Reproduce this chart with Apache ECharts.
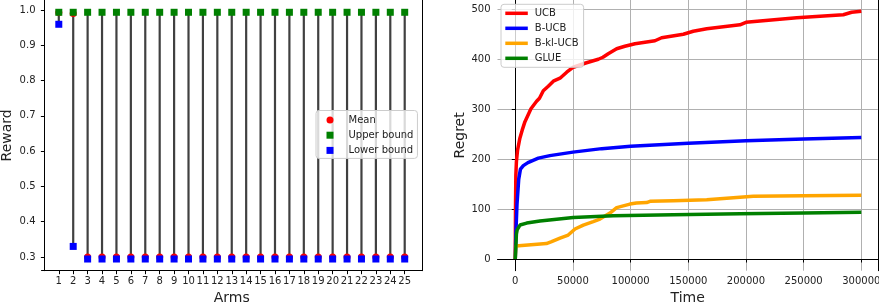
<!DOCTYPE html>
<html>
<head>
<meta charset="utf-8">
<script src="https://cdn.jsdelivr.net/npm/echarts@6/dist/echarts.min.js"></script>
<style>
html,body{margin:0;padding:0;background:#fff;}
#chart{width:879px;height:306px;}
</style>
</head>
<body>
<div id="chart"></div>
<script>
// ---------- Left panel: arms ----------
const arms = [1,2,3,4,5,6,7,8,9,10,11,12,13,14,15,16,17,18,19,20,21,22,23,24,25];
const armMean  = [0.993,0.990,0.300,0.300,0.300,0.300,0.300,0.300,0.300,0.300,0.300,0.300,0.300,0.300,0.300,0.300,0.300,0.300,0.300,0.300,0.300,0.300,0.300,0.300,0.300];
const armUpper = [0.9935,0.9935,0.9935,0.9935,0.9935,0.9935,0.9935,0.9935,0.9935,0.9935,0.9935,0.9935,0.9935,0.9935,0.9935,0.9935,0.9935,0.9935,0.9935,0.9935,0.9935,0.9935,0.9935,0.9935,0.9935];
const armLower = [0.9595,0.330,0.2943,0.2943,0.2943,0.2943,0.2943,0.2943,0.2943,0.2943,0.2943,0.2943,0.2943,0.2943,0.2943,0.2943,0.2943,0.2943,0.2943,0.2943,0.2943,0.2943,0.2943,0.2943,0.2943];
const rewardTicks = [0.3,0.4,0.5,0.6,0.7,0.8,0.9,1.0];

// ---------- Right panel: regret curves ([time, regret]) ----------
const ucbPoints = [[0,0],[200,100],[500,168],[1000,195],[2000,218],[4000,242],[6000,258],[8400,275],[13600,301],[18500,316],[21000,322],[24300,337],[28600,346],[33000,356],[38800,362],[44600,374],[50300,384],[60400,392],[72000,400],[76000,404],[80600,411],[87900,421],[95000,426],[103800,431],[121100,437],[126900,443],[145700,450],[154300,456],[166000,461],[194800,469],[200000,474],[244000,483],[284400,489],[291600,494],[300000,496]];
const bucbPoints = [[0,0],[500,50],[1500,110],[3000,160],[4500,180],[7000,187],[11000,193],[20000,202],[30000,207],[50000,214],[75000,221],[100000,226],[150000,232],[200000,237],[250000,240.5],[300000,243.5]];
const bklPoints = [[0,0],[400,26],[27000,31],[31500,35],[38800,42],[45900,48],[51800,60],[59000,68],[67600,75],[73400,80],[82100,92],[87900,103],[99400,110],[105000,112],[113900,113],[116800,115.5],[137000,116.8],[166000,118.5],[186200,122],[206300,125.5],[250000,126.5],[300000,127.5]];
const gluePoints = [[0,0],[1000,50],[1730,59],[4100,68],[9900,72],[21400,76],[50300,83],[85000,86.5],[137000,88.7],[194800,90.7],[250000,92.3],[300000,93.7]];
const timeTicks = [0,50000,100000,150000,200000,250000,300000];
const regretTicks = [0,100,200,300,400,500];

const FONT = 'DejaVu Sans';
const chart = echarts.init(document.getElementById('chart'), null, {renderer:'canvas'});

const spine = {show:true, lineStyle:{color:'#000', width:1}};
const tick = {show:true, length:3.5, lineStyle:{color:'#000', width:1}};
const plain = v => String(v);

const option = {
  animation:false,
  backgroundColor:'#fff',
  textStyle:{fontFamily:FONT},
  grid:[
    {left:41.5, top:0, width:380.5, height:270.7, outerBoundsMode:'none', containLabel:false},
    {left:497.5, top:0, width:380.3, height:270.7, outerBoundsMode:'none', containLabel:false}
  ],
  xAxis:[
    {type:'value', gridIndex:0, min:-0.2, max:26.2,
     axisLine:spine, axisTick:Object.assign({customValues:arms}, tick),
     axisLabel:{customValues:arms, fontSize:10, color:'#222', margin:6, fontFamily:FONT, formatter:plain},
     splitLine:{show:false},
     name:'Arms', nameLocation:'middle', nameGap:21,
     nameTextStyle:{fontSize:14, color:'#222', fontFamily:FONT}},
    {type:'value', gridIndex:1, min:-15400, max:314300,
     axisLine:spine, axisTick:Object.assign({customValues:timeTicks}, tick),
     axisLabel:{customValues:timeTicks, fontSize:10, color:'#222', margin:6, fontFamily:FONT, formatter:plain},
     splitLine:{show:true, lineStyle:{color:'#b0b0b0', width:1}},
     name:'Time', nameLocation:'middle', nameGap:21,
     nameTextStyle:{fontSize:14, color:'#222', fontFamily:FONT}}
  ],
  yAxis:[
    {type:'value', gridIndex:0, min:0.2612, max:1.0283,
     axisLine:spine, axisTick:Object.assign({customValues:rewardTicks}, tick),
     axisLabel:{customValues:rewardTicks, fontSize:10, color:'#222', margin:6, fontFamily:FONT,
       formatter:v=>v.toFixed(1)},
     splitLine:{show:false},
     name:'Reward', nameLocation:'middle', nameGap:27, nameRotate:90,
     nameTextStyle:{fontSize:14, color:'#222', fontFamily:FONT}},
    {type:'value', gridIndex:0, position:'right', min:0.2612, max:1.0283,
     axisLine:spine, axisTick:{show:false}, axisLabel:{show:false}, splitLine:{show:false}},
    {type:'value', gridIndex:1, min:-23.4, max:518.6,
     axisLine:spine, axisTick:Object.assign({customValues:regretTicks}, tick),
     axisLabel:{customValues:regretTicks, fontSize:10, color:'#222', margin:7, fontFamily:FONT, formatter:plain},
     splitLine:{show:true, lineStyle:{color:'#b0b0b0', width:1}},
     name:'Regret', nameLocation:'middle', nameGap:29, nameRotate:90,
     nameTextStyle:{fontSize:14, color:'#222', fontFamily:FONT}},
    {type:'value', gridIndex:1, position:'right', min:-23.4, max:518.6,
     axisLine:spine, axisTick:{show:false}, axisLabel:{show:false}, splitLine:{show:false}}
  ],
  legend:[
    {orient:'vertical', left:316, top:110.5, itemWidth:7, itemHeight:7, itemGap:3.2,
     padding:[3.5,4,2,10.5],
     borderColor:'#cccccc', borderWidth:1, borderRadius:3, backgroundColor:'rgba(255,255,255,0.8)',
     textStyle:{fontSize:10, color:'#222', fontFamily:FONT, lineHeight:12, padding:[0,0,0,10]},
     data:[{name:'Mean', icon:'circle'},{name:'Upper bound', icon:'rect'},{name:'Lower bound', icon:'rect'}]},
    {orient:'vertical', left:501, top:4.3, itemWidth:22.5, itemHeight:3.5, itemGap:3,
     padding:[3,5,3,4.3],
     borderColor:'#cccccc', borderWidth:1, borderRadius:3, backgroundColor:'rgba(255,255,255,0.8)',
     textStyle:{fontSize:10, color:'#222', fontFamily:FONT, lineHeight:12, padding:[0,0,0,2]},
     data:[{name:'UCB', icon:'rect'},{name:'B-UCB', icon:'rect'},{name:'B-kl-UCB', icon:'rect'},{name:'GLUE', icon:'rect'}]}
  ],
  series:[
    {type:'custom', name:'range', xAxisIndex:0, yAxisIndex:0, z:1,
     data: arms.map((a,i)=>[a, armLower[i], armUpper[i]]),
     renderItem:function(params, api){
       const p1 = api.coord([api.value(0), api.value(1)]);
       const p2 = api.coord([api.value(0), api.value(2)]);
       return {type:'line', shape:{x1:p1[0], y1:p1[1], x2:p2[0], y2:p2[1]},
               style:{stroke:'#404040', lineWidth:2.2}};
     }},
    {type:'scatter', name:'Mean', xAxisIndex:0, yAxisIndex:0, z:2, symbol:'circle', symbolSize:7,
     itemStyle:{color:'#ff0000', opacity:1}, data: arms.map((a,i)=>[a, armMean[i]])},
    {type:'scatter', name:'Upper bound', xAxisIndex:0, yAxisIndex:0, z:3, symbol:'rect', symbolSize:7,
     itemStyle:{color:'#008000', opacity:1}, data: arms.map((a,i)=>[a, armUpper[i]])},
    {type:'scatter', name:'Lower bound', xAxisIndex:0, yAxisIndex:0, z:4, symbol:'rect', symbolSize:7,
     itemStyle:{color:'#0000ff', opacity:1}, data: arms.map((a,i)=>[a, armLower[i]])},
    {type:'line', name:'UCB', xAxisIndex:1, yAxisIndex:2, showSymbol:false, z:2,
     lineStyle:{color:'#ff0000', width:3.5}, itemStyle:{color:'#ff0000'}, data:ucbPoints},
    {type:'line', name:'B-UCB', xAxisIndex:1, yAxisIndex:2, showSymbol:false, z:3,
     lineStyle:{color:'#0000ff', width:3.5}, itemStyle:{color:'#0000ff'}, data:bucbPoints},
    {type:'line', name:'B-kl-UCB', xAxisIndex:1, yAxisIndex:2, showSymbol:false, z:4,
     lineStyle:{color:'#ffa500', width:3.5}, itemStyle:{color:'#ffa500'}, data:bklPoints},
    {type:'line', name:'GLUE', xAxisIndex:1, yAxisIndex:2, showSymbol:false, z:5,
     lineStyle:{color:'#008000', width:3.5}, itemStyle:{color:'#008000'}, data:gluePoints}
  ]
};
chart.setOption(option);
</script>
</body>
</html>
